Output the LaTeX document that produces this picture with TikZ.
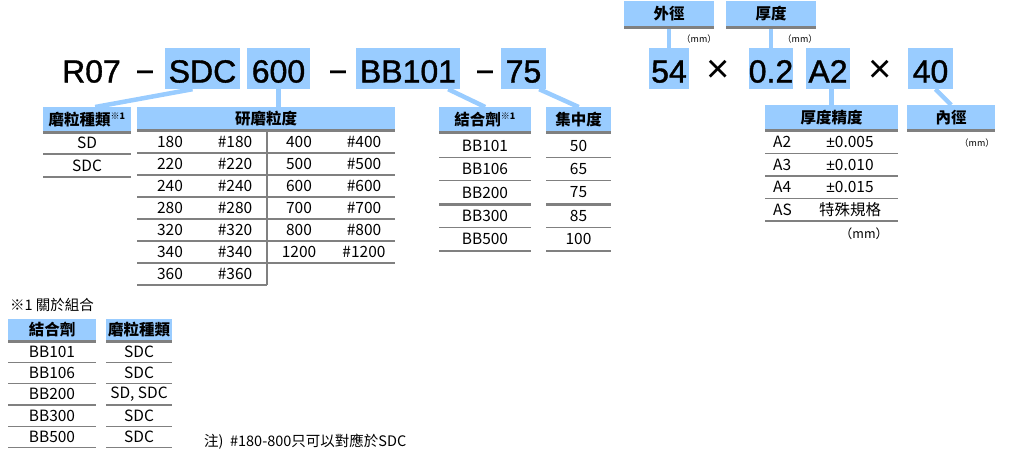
\documentclass[tikz,border=0pt]{standalone}
\usepackage{fontspec}
\setmainfont{Liberation Sans}
\newfontfamily\cjk{Noto Sans CJK TC}
\newfontfamily\codefont{Liberation Sans}[RawFeature={embolden=1.2}]
\usetikzlibrary{calc}
\definecolor{hilite}{HTML}{99CCFF}
\definecolor{rulegray}{HTML}{808080}
\definecolor{ink}{HTML}{000000}
\tikzset{
  code/.style={font=\codefont\fontsize{32}{32}\selectfont,text=ink,inner sep=0pt,text height=34.5pt,text depth=6.5pt},
  codebox/.style={code,fill=hilite},
  bigx/.style={code,font=\normalfont\fontsize{40}{40}\selectfont},
  head/.style={fill=hilite,font=\cjk\bfseries\fontsize{15.5}{16}\selectfont,text=ink,inner sep=0pt,minimum height=24pt,anchor=north west},
  cell/.style={font=\cjk\fontsize{15.5}{16}\selectfont,text=ink,inner sep=0pt},
  unit/.style={font=\cjk\fontsize{9}{10}\selectfont,text=ink,inner sep=0pt},
  link/.style={draw=hilite,line width=4.5pt},
  thinrule/.style={draw=rulegray,line width=1.3pt},
  thickrule/.style={draw=rulegray,line width=2.8pt},
}
\newcommand{\headrule}[1]{\draw[thickrule] ([yshift=-1.3pt]#1.south west) -- ([yshift=-1.3pt]#1.south east);}
\newcommand{\notemark}[1]{\textsuperscript{\fontsize{9}{9}\selectfont #1}}
\newcommand{\plusminus}{{\normalfont ±}}

\begin{document}
\begin{tikzpicture}[x=1pt,y=-1pt]
\useasboundingbox (0,0) rectangle (1022,459);

% product code
\node[code] (r07) at (91.5,68.5) {R07};
\node[code] (dash1) at (145,68.5) {−};
\node[codebox,minimum width=75pt] (csdc) at (202.5,68.5) {SDC};
\node[codebox,minimum width=63pt] (c600) at (278.5,68.5) {600};
\node[code] (dash2) at (338,68.5) {−};
\node[codebox,minimum width=104pt] (cbb) at (408,68.5) {BB101};
\node[code] (dash3) at (485,68.5) {−};
\node[codebox,minimum width=45pt] (c75) at (523.5,68.5) {75};
\node[codebox,minimum width=40pt] (c54) at (669,68.5) {54};
\node[bigx] (times1) at (718,68.5) {×};
\node[codebox,minimum width=44pt] (c02) at (771,68.5) {0.2};
\node[codebox,minimum width=44pt] (ca2) at (828,68.5) {A2};
\node[bigx] (times2) at (880,68.5) {×};
\node[codebox,minimum width=45pt] (c40) at (930.5,68.5) {40};

% headers
\node[head,minimum width=90pt,minimum height=25pt] (od) at (624,1) {外徑};
\node[head,minimum width=90pt,minimum height=25pt] (thick) at (726,1) {厚度};
\node[unit] at (699,39) {（mm）};
\node[unit] at (800,39) {（mm）};
\node[head,minimum width=88pt] (kind) at (43,107) {磨粒種類\notemark{※1}};
\node[head,minimum width=258pt,minimum height=22pt] (grit) at (137,107) {研磨粒度};
\node[head,minimum width=92pt] (binder) at (439,107) {結合劑\notemark{※1}};
\node[head,minimum width=65pt] (conc) at (546,107) {集中度};
\node[head,minimum width=133pt] (tol) at (765,105) {厚度精度};
\node[head,minimum width=88pt] (idh) at (907,105) {內徑};
\node[unit] at (977,143) {（mm）};

% links
\draw[link] ([xshift=-10pt]csdc.south) -- ([xshift=8pt]kind.north);
\draw[link] (c600.south) -- (c600.south |- grit.north);
\draw[link] ([xshift=-12pt]cbb.south east) -- (binder.north);
\draw[link] ([xshift=-7pt]c75.south east) -- (conc.north);
\draw[link] (c54.north) -- (c54.north |- od.south);
\draw[link] (c02.north) -- (c02.north |- thick.south);
\draw[link] (ca2.south -| tol.north) -- (tol.north);
\draw[link] ([xshift=5pt]c40.south) -- (idh.north);

\foreach \n in {od,thick,kind,grit,binder,conc,tol,idh}{\headrule{\n}}

% abrasive kind
\foreach \t [count=\i] in {SD,SDC}{
  \node[cell] at (87,{131+23*\i-11.5}) {\t};
  \draw[thinrule] (43,{131+23*\i}) -- (131,{131+23*\i});
}

% grit size
\foreach \a/\b/\c/\d [count=\i] in {180/\#180/400/\#400,220/\#220/500/\#500,240/\#240/600/\#600,280/\#280/700/\#700,320/\#320/800/\#800,340/\#340/1200/\#1200}{
  \node[cell] at (170,{120+22*\i}) {\a};
  \node[cell] at (235,{120+22*\i}) {\b};
  \node[cell] at (299,{120+22*\i}) {\c};
  \node[cell] at (364,{120+22*\i}) {\d};
  \draw[thinrule] (137,{131+22*\i}) -- (395,{131+22*\i});
}
\node[cell] at (170,274) {360};
\node[cell] at (235,274) {\#360};
\draw[thinrule] (137,285) -- (267,285);
\draw[thinrule] (267,131) -- (267,285);

% binder / concentration
\foreach \b/\c/\w [count=\i] in {BB101/50/thinrule,BB106/65/thinrule,BB200/75/thickrule,BB300/85/thinrule,BB500/100/thickrule}{
  \node[cell] at (485,{134+23.4*\i-11.7}) {\b};
  \node[cell] at (578.5,{134+23.4*\i-11.7}) {\c};
  \draw[\w] (439,{134+23.4*\i}) -- (531,{134+23.4*\i});
  \draw[\w] (546,{134+23.4*\i}) -- (611,{134+23.4*\i});
}

% thickness tolerance
\foreach \g/\v/\w [count=\i] in {A2/\plusminus0.005/thinrule,A3/\plusminus0.010/thickrule,A4/\plusminus0.015/thinrule,AS/特殊規格/thinrule}{
  \node[cell,anchor=west] at (773,{131+22.5*\i-11.25}) {\g};
  \node[cell] at (850,{131+22.5*\i-11.25}) {\v};
  \draw[\w] (765,{131+22.5*\i}) -- (898,{131+22.5*\i});
}
\node[unit,font=\cjk\fontsize{12.5}{13}\selectfont] at (864,234) {（mm）};

% note 1
\node[cell,anchor=west,font=\cjk\fontsize{14.5}{15}\selectfont] (notelbl) at (10,305) {※1 關於組合};
\node[head,minimum width=88pt,minimum height=21pt] (nbinder) at (8,319) {結合劑};
\node[head,minimum width=66pt,minimum height=21pt] (nkind) at (106,319) {磨粒種類};
\headrule{nbinder}
\headrule{nkind}
\foreach \b/\k [count=\i] in {BB101/SDC,BB106/SDC,BB200/{SD, SDC},BB300/SDC,BB500/SDC}{
  \node[cell] at (52,{341+21.3*\i-10.65}) {\b};
  \node[cell] at (139,{341+21.3*\i-10.65}) {\k};
  \draw[thinrule] (8,{341+21.3*\i}) -- (96,{341+21.3*\i});
  \draw[thinrule] (106,{341+21.3*\i}) -- (172,{341+21.3*\i});
}
\node[cell,anchor=west,font=\cjk\fontsize{14.5}{15}\selectfont] (note) at (204,442) {注)\ \ \#180-800只可以對應於SDC};

\end{tikzpicture}
\end{document}
